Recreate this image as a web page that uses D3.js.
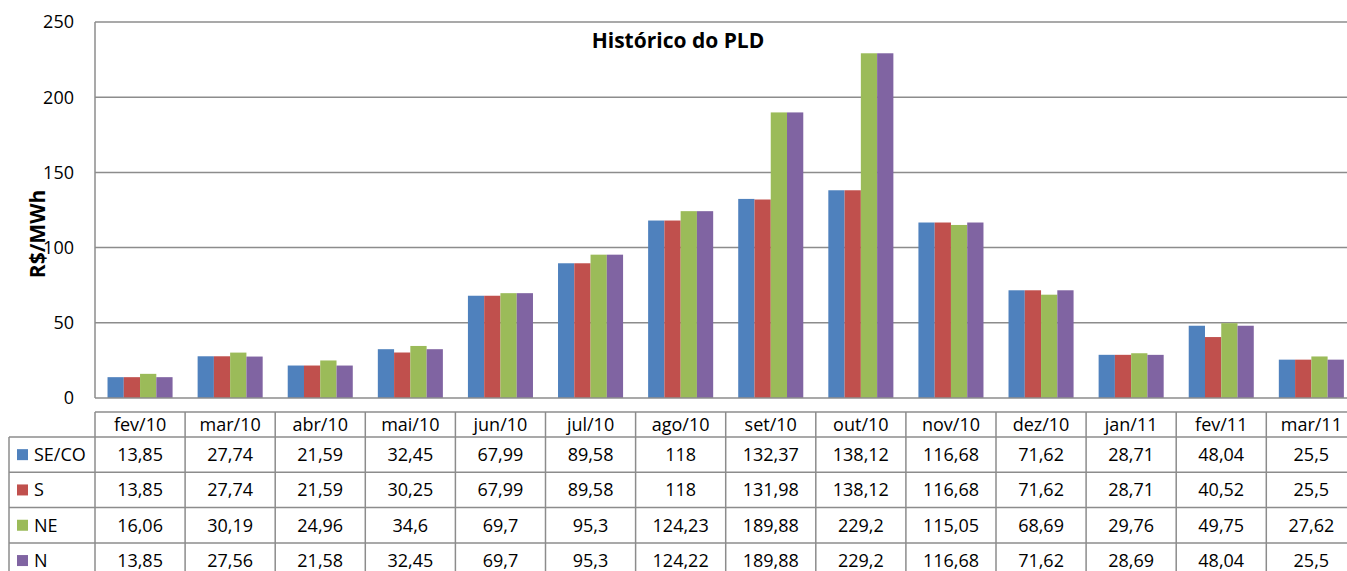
<!DOCTYPE html>
<html>
<head>
<meta charset="utf-8">
<script src="https://cdn.jsdelivr.net/npm/d3@7"></script>
<style>
  html, body { margin: 0; padding: 0; background: #fff; }
  svg { display: block; }
  text { font-family: "Open Sans", "Liberation Sans", sans-serif; fill: #000; }
</style>
</head>
<body>
<svg id="chart" width="1347" height="571"></svg>
<script>
const categories = ["fev/10","mar/10","abr/10","mai/10","jun/10","jul/10","ago/10","set/10","out/10","nov/10","dez/10","jan/11","fev/11","mar/11"];
const seriesNames = ["SE/CO","S","NE","N"];
const seriesColors = ["#4F81BD","#C0504D","#9BBB59","#8064A2"];
const valuesSECO = [13.85,27.74,21.59,32.45,67.99,89.58,118,132.37,138.12,116.68,71.62,28.71,48.04,25.5];
const valuesS    = [13.85,27.74,21.59,30.25,67.99,89.58,118,131.98,138.12,116.68,71.62,28.71,40.52,25.5];
const valuesNE   = [16.06,30.19,24.96,34.6,69.7,95.3,124.23,189.88,229.2,115.05,68.69,29.76,49.75,27.62];
const valuesN    = [13.85,27.56,21.58,32.45,69.7,95.3,124.22,189.88,229.2,116.68,71.62,28.69,48.04,25.5];
const yTicks = [0,50,100,150,200,250];
const title = "Histórico do PLD";
const yLabel = "R$/MWh";

(function () {
const allSeries = [valuesSECO, valuesS, valuesNE, valuesN];
const svg = d3.select("#chart");
const grid = "#8C8C8C";

const plotLeft = 95, step = 90.1;
const plotRight = plotLeft + step * categories.length;
const plotTop = 22, plotBottom = 398;

const x = d3.scaleBand().domain(categories).range([plotLeft, plotRight]).paddingInner(0.278).paddingOuter(0.139);
const xs = d3.scaleBand().domain(seriesNames).range([0, x.bandwidth()]);
const y = d3.scaleLinear().domain([0, 250]).range([plotBottom, plotTop]);

// gridlines
svg.append("g").selectAll("line").data(yTicks.filter(t => t > 0)).join("line")
  .attr("x1", plotLeft).attr("x2", plotRight)
  .attr("y1", d => y(d)).attr("y2", d => y(d))
  .attr("stroke", grid).attr("stroke-width", 1.5);

// bars
const groups = svg.append("g").selectAll("g").data(categories).join("g")
  .attr("transform", c => `translate(${x(c)},0)`);
groups.selectAll("rect").data((c, i) => seriesNames.map((s, k) => ({s, k, v: allSeries[k][i]}))).join("rect")
  .attr("x", d => xs(d.s)).attr("width", xs.bandwidth())
  .attr("y", d => y(d.v)).attr("height", d => y(0) - y(d.v))
  .attr("fill", d => seriesColors[d.k]);

// axes lines
svg.append("line").attr("x1", plotLeft).attr("x2", plotLeft).attr("y1", plotTop).attr("y2", plotBottom)
  .attr("stroke", grid).attr("stroke-width", 1.5);
svg.append("line").attr("x1", plotLeft).attr("x2", plotRight).attr("y1", plotBottom).attr("y2", plotBottom)
  .attr("stroke", grid).attr("stroke-width", 1.5);

// y tick labels
svg.append("g").selectAll("text").data(yTicks).join("text")
  .attr("x", 74).attr("y", d => y(d)).attr("dy", "0.35em")
  .attr("text-anchor", "end").style("font-size", "18px").text(d => d);

// title
svg.append("text").attr("x", 678).attr("y", 48).attr("text-anchor", "middle")
  .style("font-size", "21px").style("font-weight", "bold").text(title);

// y label
svg.append("text").attr("transform", "translate(45,234) rotate(-90)")
  .attr("text-anchor", "middle").style("font-size", "21px").style("font-weight", "bold").text(yLabel);

// data table
const headTop = 412, headBot = 437, rowH = 35.3, tableLeft = 9;
const rowsBottom = headBot + rowH * seriesNames.length;
const t = svg.append("g");
t.append("line").attr("x1", plotLeft).attr("x2", plotRight).attr("y1", headTop).attr("y2", headTop).attr("stroke", grid).attr("stroke-width", 1.5);
d3.range(seriesNames.length + 1).forEach(i => {
  const yy = headBot + i * rowH;
  t.append("line").attr("x1", tableLeft).attr("x2", plotRight).attr("y1", yy).attr("y2", yy).attr("stroke", grid).attr("stroke-width", 1.5);
});
t.append("line").attr("x1", tableLeft).attr("x2", tableLeft).attr("y1", headBot).attr("y2", rowsBottom).attr("stroke", grid).attr("stroke-width", 1.5);
t.selectAll("line.v").data(d3.range(categories.length + 1)).join("line").attr("class", "v")
  .attr("x1", i => plotLeft + i * step).attr("x2", i => plotLeft + i * step)
  .attr("y1", headTop).attr("y2", rowsBottom).attr("stroke", grid).attr("stroke-width", 1.5);
t.selectAll("text.h").data(categories).join("text").attr("class", "h")
  .attr("x", c => x(c) + x.bandwidth() / 2).attr("y", (headTop + headBot) / 2).attr("dy", "0.35em")
  .attr("text-anchor", "middle").style("font-size", "18px").text(c => c);
seriesNames.forEach((s, k) => {
  const cy = headBot + k * rowH + rowH / 2;
  t.append("rect").attr("x", 17).attr("y", cy - 5.5).attr("width", 11).attr("height", 11).attr("fill", seriesColors[k]);
  t.append("text").attr("x", 34).attr("y", cy).attr("dy", "0.35em").style("font-size", "18px").text(s);
  t.selectAll("text.v" + k).data(allSeries[k]).join("text").attr("class", "v" + k)
    .attr("x", (v, i) => x(categories[i]) + x.bandwidth() / 2).attr("y", cy).attr("dy", "0.35em")
    .attr("text-anchor", "middle").style("font-size", "18px")
    .text(v => String(v).replace(".", ","));
});
})();
</script>
</body>
</html>
